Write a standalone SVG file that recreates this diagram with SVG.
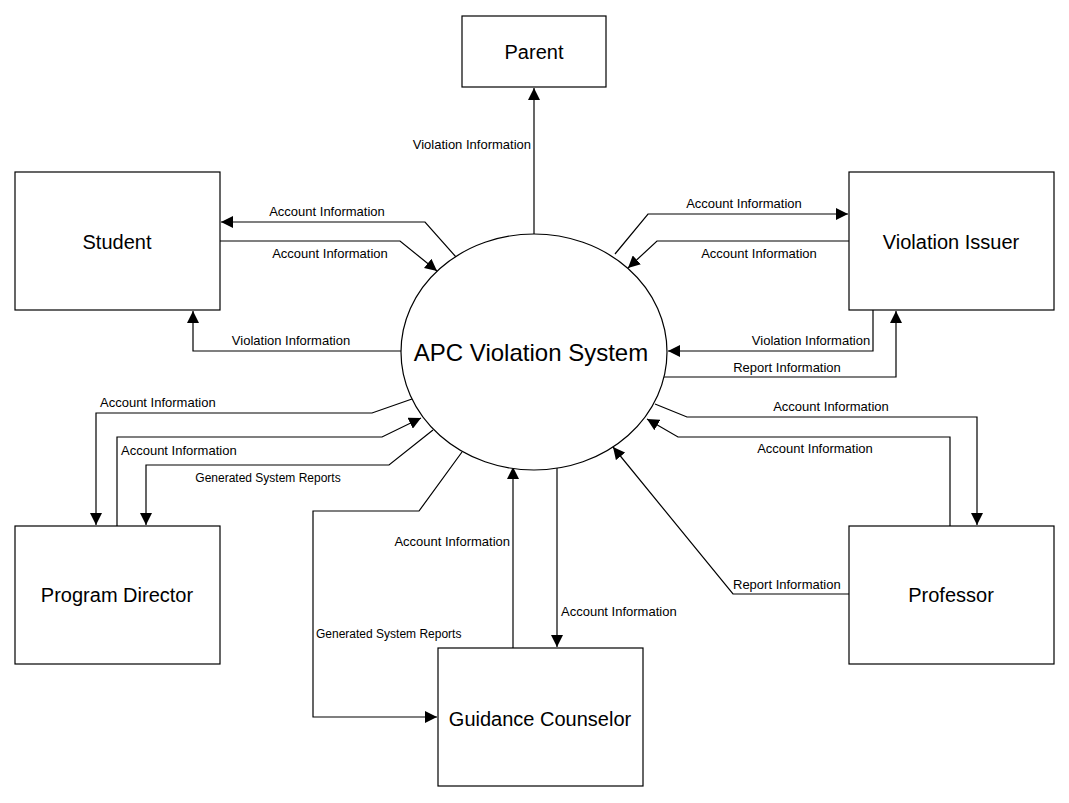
<svg xmlns="http://www.w3.org/2000/svg" width="1069" height="803" viewBox="0 0 1069 803">
<style>
.box{fill:#fff;stroke:#000;stroke-width:1.2}
.nt{font-family:"Liberation Sans",Arial,sans-serif;font-size:20px;text-anchor:middle;fill:#000}
.et{font-family:"Liberation Sans",Arial,sans-serif;font-size:13px;fill:#000}
.gs{font-size:12px}
.c{fill:none;stroke:#000;stroke-width:1.2;marker-end:url(#ah)}
</style>
<defs>
<marker id="ah" markerUnits="userSpaceOnUse" markerWidth="12" markerHeight="12" refX="12" refY="6" orient="auto">
<path d="M0,0 L12,6 L0,12 z" fill="#000"/>
</marker>
</defs>
<rect width="1069" height="803" fill="#fff"/>
<g id="connectors">
<path class="c" d="M534,234 L534,88"/>
<path class="c" d="M456,257 L425,222 L221,222"/>
<path class="c" d="M220,241 L400,241 L437,271"/>
<path class="c" d="M401,351 L193,351 L193,311"/>
<path class="c" d="M615,254 L648,214 L848,214"/>
<path class="c" d="M849,241 L657,241 L628,268"/>
<path class="c" d="M873,310 L873,351 L668,351"/>
<path class="c" d="M663,377 L896,377 L896,311"/>
<path class="c" d="M412,399 L372,413 L96,413 L96,525"/>
<path class="c" d="M117,526 L117,437 L382,437 L421,418"/>
<path class="c" d="M433,430 L389,465 L146,465 L146,525"/>
<path class="c" d="M462,452 L419,511 L313,511 L313,717 L437,717"/>
<path class="c" d="M513,648 L513,467"/>
<path class="c" d="M557,468 L557,647"/>
<path class="c" d="M655,404 L687,417 L977,417 L977,525"/>
<path class="c" d="M950,526 L950,437 L678,437 L647,419"/>
<path class="c" d="M849,594 L733,594 L613,447"/>
</g>
<g id="labels">
<text class="et" x="531" y="149" text-anchor="end">Violation Information</text>
<text class="et" x="327" y="216" text-anchor="middle">Account Information</text>
<text class="et" x="330" y="258" text-anchor="middle">Account Information</text>
<text class="et" x="291" y="345" text-anchor="middle">Violation Information</text>
<text class="et" x="744" y="208" text-anchor="middle">Account Information</text>
<text class="et" x="759" y="258" text-anchor="middle">Account Information</text>
<text class="et" x="811" y="345" text-anchor="middle">Violation Information</text>
<text class="et" x="787" y="372" text-anchor="middle">Report Information</text>
<text class="et" x="100" y="407">Account Information</text>
<text class="et" x="121" y="455">Account Information</text>
<text class="et gs" x="268" y="482" text-anchor="middle">Generated System Reports</text>
<text class="et gs" x="316" y="638">Generated System Reports</text>
<text class="et" x="510" y="546" text-anchor="end">Account Information</text>
<text class="et" x="561" y="616">Account Information</text>
<text class="et" x="831" y="411" text-anchor="middle">Account Information</text>
<text class="et" x="815" y="453" text-anchor="middle">Account Information</text>
<text class="et" x="733" y="589">Report Information</text>
</g>
<g id="parent"><rect class="box" x="462" y="16" width="144" height="71"/><text class="nt" x="534" y="59">Parent</text></g>
<g id="student"><rect class="box" x="15" y="172" width="205" height="138"/><text class="nt" x="117" y="249">Student</text></g>
<g id="violation-issuer"><rect class="box" x="849" y="172" width="205" height="138"/><text class="nt" x="951" y="249">Violation Issuer</text></g>
<g id="program-director"><rect class="box" x="15" y="526" width="205" height="138"/><text class="nt" x="117" y="602">Program Director</text></g>
<g id="professor"><rect class="box" x="849" y="526" width="205" height="138"/><text class="nt" x="951" y="602">Professor</text></g>
<g id="guidance-counselor"><rect class="box" x="438" y="648" width="205" height="138"/><text class="nt" x="540" y="726">Guidance Counselor</text></g>
<g id="apc-system"><ellipse class="box" cx="534" cy="352" rx="133" ry="118"/><text class="nt" x="531" y="361" style="font-size:24px">APC Violation System</text></g>
</svg>
